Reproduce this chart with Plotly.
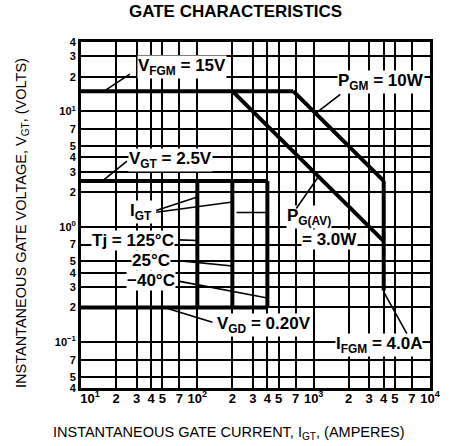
import numpy as np
import plotly.graph_objects as go

# ---- axis ticks (gate current in mA on x, gate voltage in V on y) ----
x_tickvals = [10, 20, 30, 40, 50, 70, 100, 200, 300, 400, 500, 700,
              1000, 2000, 3000, 4000, 5000, 7000, 10000]
x_ticktext = ["\u00a0\u00a0\u00a0\u00a0\u00a010<sup>1</sup>", "2", "3", "4", "5", "7", "10<sup>2</sup>",
              "2", "3", "4", "5", "7",
              "10<sup>3</sup>", "2", "3", "4", "5", "7", "10<sup>4</sup>"]
y_tickvals = [0.04, 0.05, 0.07, 0.1, 0.2, 0.3, 0.4, 0.5, 0.7, 1, 2, 3, 4, 5, 7, 10, 20, 30, 40]
y_ticktext = ["4", "5", "7", "10<sup>−1</sup>", "2", "3", "4", "5", "7", "10<sup>0</sup>",
              "2", "3", "4", "5", "7", "10<sup>1</sup>", "2", "3", "4"]

# ---- characteristic boundary lines ----
vfgm_i = [10, 667]
vfgm_v = [15, 15]
pgm_i = [667, 4000]
pgm_v = [15, 2.5]
pgav_i = [200, 4000]
pgav_v = [15, 0.75]
ifgm_i = [4000, 4000]
ifgm_v = [2.5, 0.28]
vgt_i = [10, 400]
vgt_v = [2.5, 2.5]
vgd_i = [10, 400]
vgd_v = [0.2, 0.2]
igt_v = [2.5, 0.2]
igt125_i = [100, 100]
igt25_i = [200, 200]
igtm40_i = [400, 400]

FONT = "Liberation Sans, Arial, sans-serif"
LW = 4

fig = go.Figure()
for xi, yv in [(vfgm_i, vfgm_v), (pgm_i, pgm_v), (pgav_i, pgav_v), (ifgm_i, ifgm_v),
               (vgt_i, vgt_v), (vgd_i, vgd_v), (igt125_i, igt_v), (igt25_i, igt_v),
               (igtm40_i, igt_v)]:
    fig.add_trace(go.Scatter(x=xi, y=yv, mode="lines",
                             line=dict(color="black", width=LW),
                             showlegend=False, hoverinfo="skip"))

L = np.log10


def label(i, v, text, size=17):
    return dict(x=L(i), y=L(v), xref="x", yref="y", text="<b>" + text + "</b>",
                showarrow=False, bgcolor="white", borderpad=0,
                xanchor="center", yanchor="middle",
                font=dict(family=FONT, size=size, color="black"))


def leader(i0, v0, i1, v1):
    return dict(x=L(i1), y=L(v1), ax=L(i0), ay=L(v0), xref="x", yref="y",
                axref="x", ayref="y", text="", showarrow=True, arrowhead=0,
                arrowwidth=1.6, arrowcolor="black", standoff=0, startstandoff=0)


annotations = [
    label(73.6, 24.3, "V<sub>FGM</sub> = 15V"),
    label(3760, 18, "P<sub>GM</sub> = 10W"),
    label(58.4, 3.79, "V<sub>GT</sub> = 2.5V"),
    label(32.8, 1.34, "I<sub>GT</sub>"),
    label(28.2, 0.767, "Tj = 125°C"),
    label(39.8, 0.515, "25°C"),
    label(39.8, 0.345, "−40°C"),
    label(376, 0.141, "V<sub>GD</sub> = 0.20V"),
    label(908, 1.22, "P<sub>G(AV)</sub>"),
    label(1360, 0.783, "= 3.0W"),
    label(3614, 0.0944, "I<sub>FGM</sub> = 4.0A"),
    leader(27.1, 21.5, 15.8, 15),
    leader(1745, 14.4, 1040, 9.6),
    leader(25.6, 3.79, 15.3, 2.5),
    leader(43, 1.37, 100, 1.81),
    leader(43, 1.33, 200, 1.64),
    leader(211, 1.33, 400, 1.33),
    leader(66.8, 0.77, 100, 0.76),
    leader(66.8, 0.51, 200, 0.457),
    leader(66.8, 0.34, 400, 0.241),
    leader(139, 0.147, 52, 0.2),
    leader(695, 1.4, 1100, 2.73),
    leader(6430, 0.115, 4000, 0.272),
    # titles
    dict(x=0.444, y=1.087, xref="paper", yref="paper", text="<b>GATE CHARACTERISTICS</b>",
         xanchor="center", yanchor="middle",
         showarrow=False, font=dict(family=FONT, size=17, color="black")),
    dict(x=0.425, y=-0.13, xref="paper", yref="paper",
         text="INSTANTANEOUS GATE CURRENT, I<sub>GT</sub>, (AMPERES)",
         xanchor="center", yanchor="middle",
         showarrow=False, font=dict(family=FONT, size=14.5, color="black")),
    dict(x=-0.169, y=0.477, xref="paper", yref="paper", textangle=-90,
         text="INSTANTANEOUS GATE VOLTAGE, V<sub>GT</sub>, (VOLTS)",
         xanchor="center", yanchor="middle",
         showarrow=False, font=dict(family=FONT, size=14.5, color="black")),
]

axis_common = dict(type="log", showgrid=True, gridcolor="black", gridwidth=1.6,
                   showline=True, linecolor="black", linewidth=3, mirror=True,
                   ticks="", zeroline=False)

fig.update_layout(
    width=453, height=446,
    margin=dict(l=81, r=12, t=42, b=58),
    paper_bgcolor="white", plot_bgcolor="white",
    annotations=annotations,
    xaxis=dict(range=[1, 4], tickvals=x_tickvals, ticklabelstandoff=-4,
               tickfont=dict(family=FONT, size=13, color="black"),
               ticktext=["<b>" + t + "</b>" for t in x_ticktext], **axis_common),
    yaxis=dict(range=[L(0.04), L(40)], tickvals=y_tickvals,
               tickfont=dict(family=FONT, size=11, color="black"),
               ticktext=["<b>" + t + "</b>" for t in y_ticktext], **axis_common),
)

fig.write_html("out.html", config={"displayModeBar": False},
               post_script="document.body.style.margin='0';")
